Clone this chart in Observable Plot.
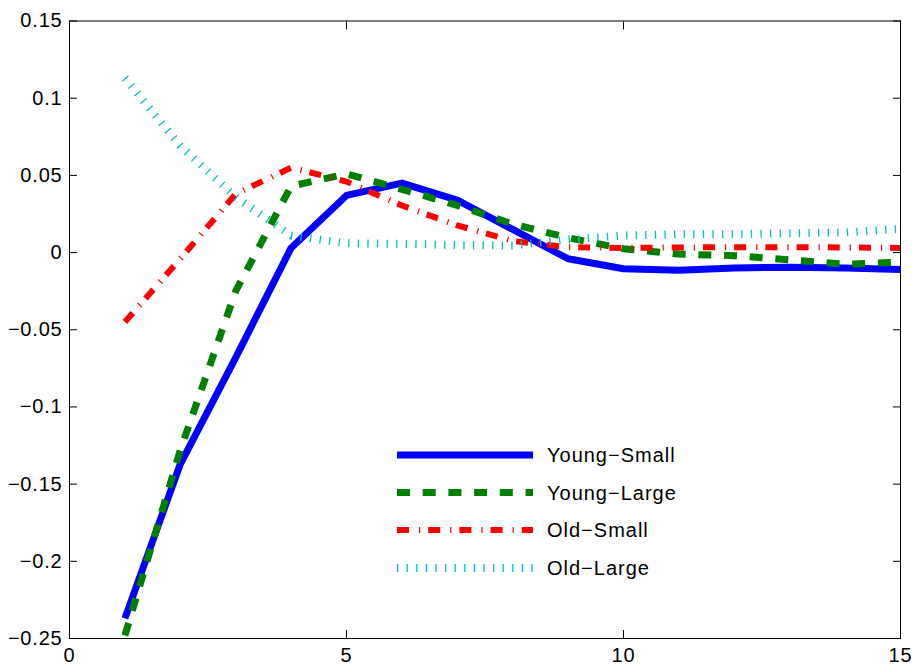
<!DOCTYPE html>
<html>
<head>
<meta charset="utf-8">
<script src="https://cdn.jsdelivr.net/npm/d3@7"></script>
<script src="https://cdn.jsdelivr.net/npm/@observablehq/plot@0.6"></script>
<style>
  body { margin: 0; background: #fff; }
  #chart { position: relative; width: 913px; height: 664px; font-family: "Liberation Sans", Arial, sans-serif; }
  #legend { position: absolute; left: 0; top: 0; pointer-events: none; }
</style>
</head>
<body>
<div id="chart"></div>
<script>
// ---- data ----
const periods = [1, 2, 3, 4, 5, 6, 7, 8, 9, 10, 11, 12, 13, 14, 15];
const youngSmall = [-0.237, -0.137, -0.068, 0.003, 0.037, 0.045, 0.034, 0.015, -0.004, -0.0105, -0.0115, -0.010, -0.0095, -0.010, -0.011];
const youngLarge = [-0.248, -0.128, -0.025, 0.043, 0.051, 0.041, 0.0305, 0.0185, 0.0096, 0.0025, -0.001, -0.002, -0.0047, -0.0075, -0.0062];
const oldSmall   = [-0.045, -0.004, 0.038, 0.055, 0.046, 0.0305, 0.0176, 0.0075, 0.0035, 0.003, 0.0033, 0.0035, 0.0035, 0.0033, 0.003];
const oldLarge   = [0.113, 0.069, 0.036, 0.011, 0.006, 0.0057, 0.0048, 0.0046, 0.0085, 0.011, 0.012, 0.012, 0.0125, 0.013, 0.0154];
const seriesNames = ["Young\u2212Small", "Young\u2212Large", "Old\u2212Small", "Old\u2212Large"];
const xTicks = [0, 5, 10, 15];
const yTicks = [-0.25, -0.2, -0.15, -0.1, -0.05, 0, 0.05, 0.1, 0.15];

// ---- styles ----
const styles = [
  {stroke: "#0000ff", strokeWidth: 7, dash: null, join: "round"},
  {stroke: "#008000", strokeWidth: 7, dash: "13 12.7", join: "miter"},
  {stroke: "#ff0000", strokeWidth: 6, dash: "12 10 1.2 8", join: "miter"},
  {stroke: "#00bfbf", strokeWidth: 8, dash: "1.3 8.3", join: "miter"}
];
const allValues = [youngSmall, youngLarge, oldSmall, oldLarge];
const rows = allValues.flatMap((vals, k) => vals.map((v, i) => ({x: periods[i], y: v, series: seriesNames[k]})));

const fmt = d => {
  const s = String(Math.round(d * 100) / 100);
  return s.replace("-", "\u2212");
};

const plot = Plot.plot({
  width: 913,
  height: 664,
  marginLeft: 69,
  marginRight: 13,
  marginTop: 20.5,
  marginBottom: 26,
  style: {fontFamily: "'Liberation Sans', Arial, sans-serif", fontSize: "20px", letterSpacing: "0.8px", background: "white", overflow: "visible"},
  x: {domain: [0, 15], label: null},
  y: {domain: [-0.25, 0.15], label: null},
  marks: [
    ...seriesNames.map((name, k) => Plot.line(rows.filter(r => r.series === name), {
      x: "x", y: "y",
      stroke: styles[k].stroke,
      strokeWidth: styles[k].strokeWidth,
      strokeDasharray: styles[k].dash,
      strokeLinecap: "butt",
      strokeLinejoin: styles[k].join
    })),
    Plot.frame({stroke: "black", strokeWidth: 1}),
    Plot.axisX({ticks: xTicks, tickSize: -8, tickPadding: 17, tickFormat: d => String(d), label: null, fill: "black"}),
    Plot.axisX({anchor: "top", ticks: xTicks, tickSize: -8, tickFormat: () => "", label: null}),
    Plot.axisY({ticks: yTicks, tickSize: -8, tickPadding: 15, tickFormat: fmt, label: null, fill: "black"}),
    Plot.axisY({anchor: "right", ticks: yTicks, tickSize: -8, tickFormat: () => "", label: null})
  ]
});
const chart = document.getElementById("chart");
chart.appendChild(plot);

// ---- legend (overlay inside the plot area) ----
const ns = "http://www.w3.org/2000/svg";
const leg = document.createElementNS(ns, "svg");
leg.setAttribute("id", "legend");
leg.setAttribute("width", 913);
leg.setAttribute("height", 664);
const rowY = [455, 492.5, 530, 568];
seriesNames.forEach((name, k) => {
  const line = document.createElementNS(ns, "line");
  line.setAttribute("x1", 397);
  line.setAttribute("x2", 533);
  line.setAttribute("y1", rowY[k]);
  line.setAttribute("y2", rowY[k]);
  line.setAttribute("stroke", styles[k].stroke);
  line.setAttribute("stroke-width", styles[k].strokeWidth);
  if (styles[k].dash) line.setAttribute("stroke-dasharray", styles[k].dash);
  leg.appendChild(line);
  const t = document.createElementNS(ns, "text");
  t.setAttribute("x", 547);
  t.setAttribute("y", rowY[k]);
  t.setAttribute("dy", "0.35em");
  t.setAttribute("font-size", "20");
  t.setAttribute("letter-spacing", "1");
  t.setAttribute("font-family", "'Liberation Sans', Arial, sans-serif");
  t.setAttribute("fill", "black");
  t.textContent = name;
  leg.appendChild(t);
});
chart.appendChild(leg);
</script>
</body>
</html>
